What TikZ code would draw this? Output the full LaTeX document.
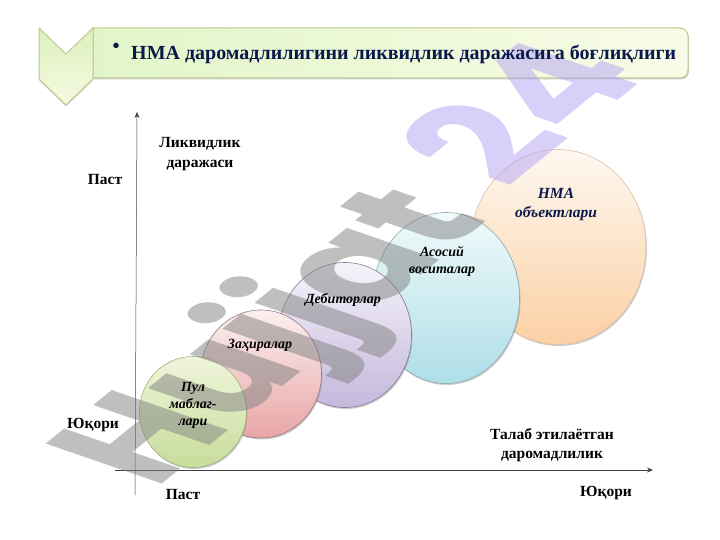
\documentclass[tikz,border=0pt]{standalone}
\usepackage{fontspec}
\setmainfont{Liberation Serif}
\newfontfamily\wmfont{Poppins}
\usetikzlibrary{positioning,arrows.meta,shapes.geometric,shadows}
\definecolor{navy}{RGB}{10,25,75}
\definecolor{barline}{RGB}{190,203,145}
\tikzset{
	blob/.style={ellipse,inner sep=0pt,line width=0.6pt,drop shadow={shadow xshift=1pt,shadow yshift=-1.5pt,opacity=0.4}},
	axis/.style={-{Stealth[length=6pt,width=5pt]},line width=0.5pt,black!75},
	bold/.style={font=\fontsize{15.5}{19.5}\selectfont\bfseries,align=center,text=black},
	ital/.style={font=\fontsize{14}{17}\selectfont\bfseries\itshape,align=center,text=black},
	wmark/.style={anchor=base west,inner sep=0pt,text opacity=0.5,font=\wmfont\bfseries\fontsize{100}{100}\selectfont},
}
\begin{document}
\begin{tikzpicture}[x=1pt,y=-1pt]
	\useasboundingbox (0,0) rectangle (720,540);

	% title bar
	\draw[barline,line width=1pt,left color={rgb,255:red,226;green,245;blue,200},right color={rgb,255:red,249;green,252;blue,232},drop shadow={shadow xshift=1pt,shadow yshift=-1.5pt,opacity=0.4}]
		(93,28) -- (680,28) to[out=0,in=90] (688,36) -- (688,70) to[out=-90,in=0] (680,78) -- (93,78) -- cycle;
	\draw[barline,line width=1pt,top color={rgb,255:red,222;green,240;blue,190},bottom color={rgb,255:red,245;green,250;blue,225},drop shadow={shadow xshift=0pt,shadow yshift=-1.5pt,opacity=0.35}]
		(39,28) -- (66,54) -- (93,28) -- (93,79) -- (66,105) -- (39,79) -- cycle;

	% axes
	\coordinate (yfrom) at (135,495);
	\coordinate (yto) at (137,112);
	\coordinate (xfrom) at (115,470);
	\coordinate (xto) at (653,470);
	\draw[axis] (yfrom) -- (yto);
	\draw[axis] (xfrom) -- (xto);

	% assets, largest first
	\node[blob,minimum width=176pt,minimum height=195pt,draw={rgb,255:red,225;green,190;blue,160},top color={rgb,255:red,254;green,248;blue,240},bottom color={rgb,255:red,251;green,208;blue,165}] (nma) at (558,247) {};
	\node[blob,minimum width=147pt,minimum height=171pt,draw={rgb,255:red,140;green,170;blue,175},top color={rgb,255:red,240;green,250;blue,250},bottom color={rgb,255:red,175;green,222;blue,232}] (asosiy) at (446,298) {};
	\node[blob,minimum width=133pt,minimum height=145pt,draw={rgb,255:red,130;green,125;blue,145},top color={rgb,255:red,245;green,243;blue,250},bottom color={rgb,255:red,196;green,184;blue,220}] (debitor) at (345,335) {};
	\node[blob,minimum width=121pt,minimum height=128pt,draw={rgb,255:red,150;green,120;blue,125},top color={rgb,255:red,252;green,240;blue,240},bottom color={rgb,255:red,232;green,165;blue,165}] (zahira) at (261,374) {};
	\node[blob,minimum width=107pt,minimum height=111pt,draw={rgb,255:red,160;green,175;blue,125},top color={rgb,255:red,240;green,246;blue,220},bottom color={rgb,255:red,200;green,220;blue,155}] (pul) at (193,412) {};

	% watermark
	\node[wmark,cm={1.088,0.881,-1.655,0.570,(0,0)},text=gray] (mark) at (155,490) {Hujjat};
	\node[wmark,cm={1.158,0.938,-1.655,0.570,(0,0)},text={rgb,255:red,179;green,161;blue,245}] (marknum) at (507,190) {24};

	\node[font=\fontsize{20}{24}\selectfont\bfseries,text=navy,anchor=west,inner sep=0pt] (title) at (131,54) {НМА даромадлилигини ликвидлик даражасига боғлиқлиги};
	\node[font=\fontsize{20}{24}\selectfont\bfseries,text=navy,inner sep=0pt] (dot) at (116,48) {•};

	\begin{scope}[every node/.style={bold}]
		\node (ylabel) at (200,154) {Ликвидлик\\даражаси};
		\node (ypast) at (105,180) {Паст};
		\node (yhigh) at (93,425) {Юқори};
		\node (xpast) at (183,494) {Паст};
		\node (xlabel) at (552,445) {Талаб этилаётган\\даромадлилик};
		\node (xhigh) at (606,493) {Юқори};
	\end{scope}

	\begin{scope}[every node/.style={ital}]
		\node[text=navy,font=\fontsize{15.5}{19}\selectfont\bfseries\itshape] (nmatext) at (556,205) {НМА\\объектлари};
		\node (asosiytext) at (442,261) {Асосий\\воситалар};
		\node (debitortext) at (343,300) {Дебиторлар};
		\node (zahiratext) at (260,345) {Заҳиралар};
		\node (pultext) at (193,405) {Пул\\маблаг-\\лари};
	\end{scope}
\end{tikzpicture}
\end{document}
